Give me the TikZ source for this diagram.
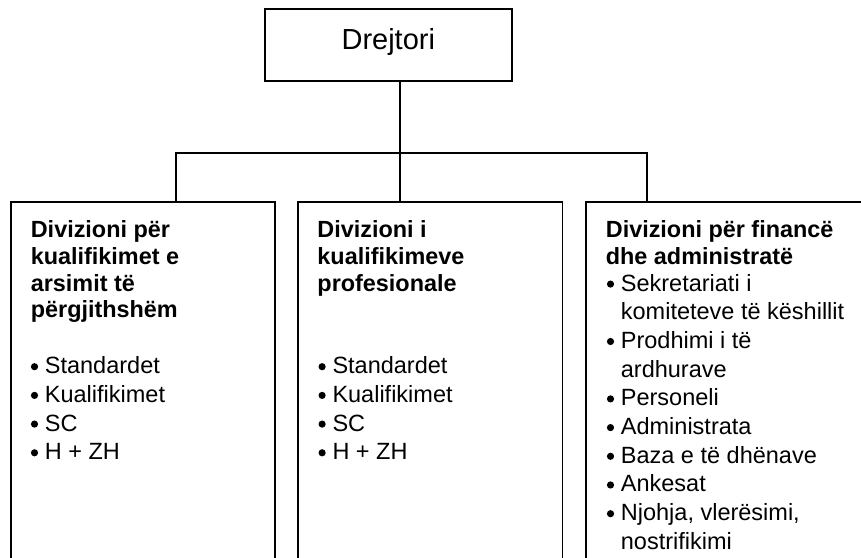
\documentclass[tikz,border=0pt]{standalone}
\usepackage{fontspec}
\setmainfont{Liberation Sans}
\newcommand\bdot{\makebox[14pt][l]{\tikz[baseline={(0pt,0pt)},x=1pt,y=1pt]\fill (3.5,7) circle[radius=3.6pt];}}
\newcommand\ind{\hspace*{14pt}}
\begin{document}
\begin{tikzpicture}[x=1pt,y=-1pt,line width=1.7pt,
  box/.style={draw,rectangle,inner sep=0pt},
  head/.style={anchor=north west,inner sep=0pt,align=left,
    font=\fontsize{23.4}{26.7}\selectfont\bfseries},
  items/.style={anchor=north west,inner sep=0pt,align=left,
    font=\fontsize{23.5}{28.7}\selectfont}]
\useasboundingbox (0,0) rectangle (861,557);
\clip (0,0) rectangle (861,557);
\node[box,minimum width=246.7pt,minimum height=72pt,text height=21pt,text depth=11pt,
  font=\fontsize{29}{34}\selectfont] (top) at (388.3,44.7) {Drejtori};
\node[box,anchor=north west,minimum width=264pt,minimum height=380pt] (b1) at (10,201) {};
\node[box,anchor=north west,minimum width=264.4pt,minimum height=380pt] (b2) at (297.3,201) {};
\node[box,anchor=north west,minimum width=300pt,minimum height=380pt] (b3) at (585,201) {};
\coordinate (hub) at (400,153);
\coordinate (s1) at (175.7,153);
\coordinate (s3) at (646.7,153);
\draw (top.south -| hub) -- (hub);
\draw (b1.north -| s1) -- (s1) -- (s3) -- (b3.north -| s3);
\draw (hub) -- (b2.north -| hub);
% headings
\node[head] (h1) at (30,218.3) {\strut Divizioni për\\\strut kualifikimet e\\\strut arsimit të\\\strut përgjithshëm};
\node[head] (h2) at (316.6,218.3) {\strut Divizioni i\\\strut kualifikimeve\\\strut profesionale};
\node[head] (h3) at (605,218.3) {\strut Divizioni për financë\\\strut dhe administratë};
% lists
\node[items] (l1) at (30.7,353.4) {\strut\bdot Standardet\\\strut\bdot Kualifikimet\\\strut\bdot SC\\\strut\bdot H + ZH};
\node[items] (l2) at (318.3,353.4) {\strut\bdot Standardet\\\strut\bdot Kualifikimet\\\strut\bdot SC\\\strut\bdot H + ZH};
\node[items] (l3) at (606.7,270.8) {\strut\bdot Sekretariati i\\\strut\ind komiteteve të këshillit\\\strut\bdot Prodhimi i të\\\strut\ind ardhurave\\\strut\bdot Personeli\\\strut\bdot Administrata\\\strut\bdot Baza e të dhënave\\\strut\bdot Ankesat\\\strut\bdot Njohja, vlerësimi,\\\strut\ind nostrifikimi};
\end{tikzpicture}
\end{document}
